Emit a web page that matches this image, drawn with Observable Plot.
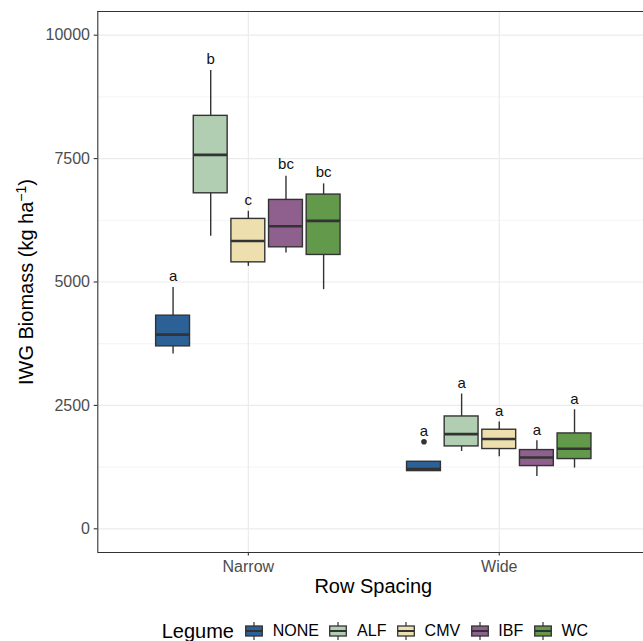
<!DOCTYPE html>
<html><head><meta charset="utf-8">
<script src="https://cdn.jsdelivr.net/npm/d3@7"></script>
<script src="https://cdn.jsdelivr.net/npm/@observablehq/plot@0.6"></script>
<style>
html,body{margin:0;padding:0;background:#fff;overflow:hidden;font-family:"Liberation Sans",Arial,sans-serif;}
#wrap{position:relative;width:643px;height:641px;overflow:hidden;}
#chart{position:absolute;left:0;top:0;}
#legend{position:absolute;left:0;top:620px;height:22px;display:flex;align-items:center;padding-left:161.7px;white-space:nowrap;}
#legend .title{font-size:20px;color:#000;margin-right:11px;}
#legend .key{display:flex;align-items:center;margin-right:10.5px;}
#legend .key svg{margin-right:9.7px;}
#legend .lab{font-size:16px;color:#000;}
</style>
</head><body>
<div id="wrap"><div id="chart"></div><div id="legend"></div></div>
<script>
// ---- data ----
const spacings = ["Narrow", "Wide"];
const legumes = ["NONE", "ALF", "CMV", "IBF", "WC"];
const legumeColors = ["#2b6196", "#b2ceb2", "#eddfae", "#8f5f8d", "#62994a"];
// [lower whisker, Q1, median, Q3, upper whisker] per legume
const narrowStats = [
  [3541, 3696, 3933, 4318, 4891],
  [5925, 6797, 7575, 8366, 9284],
  [5317, 5398, 5832, 6278, 6432],
  [5589, 5703, 6128, 6663, 7142],
  [4845, 5548, 6238, 6771, 6988]
];
const wideStats = [
  [1169, 1169, 1210, 1358, 1358],
  [1567, 1669, 1919, 2276, 2730],
  [1460, 1616, 1818, 2007, 2162],
  [1060, 1271, 1446, 1595, 1784],
  [1230, 1413, 1622, 1932, 2412]
];
const narrowLetters = ["a", "b", "c", "bc", "bc"];
const wideLetters = ["a", "a", "a", "a", "a"];
const narrowLetterY = [5108, 9507, 6649, 7379, 7217];
const wideLetterY = [1972, 2945, 2378, 2001, 2629];
const outlierSpacing = ["Wide"];
const outlierLegume = ["NONE"];
const outlierValue = [1764];
const yTicks = [0, 2500, 5000, 7500, 10000];
const yMinorTicks = [1250, 3750, 6250, 8750];
const yDomain = [-480, 10480];
const xDomain = [0.4, 2.6];

// ---- build table ----
const rows = [];
spacings.forEach((s, gi) => {
  const stats = gi === 0 ? narrowStats : wideStats;
  const letters = gi === 0 ? narrowLetters : wideLetters;
  const ly = gi === 0 ? narrowLetterY : wideLetterY;
  legumes.forEach((l, li) => {
    const [lw, q1, med, q3, uw] = stats[li];
    rows.push({spacing: s, legume: l, gi, li, lw, q1, med, q3, uw, letter: letters[li], letterY: ly[li]});
  });
});
const outliers = outlierValue.map((v, i) => ({
  gi: spacings.indexOf(outlierSpacing[i]), li: legumes.indexOf(outlierLegume[i]), value: v
}));
const DODGE = 0.15, HALF = 0.0675;
const xc = d => d.gi + 1 + (d.li - 2) * DODGE;

const plot = Plot.plot({
  width: 643,
  height: 605,
  marginLeft: 97.3,
  marginRight: -6.3,
  marginTop: 11,
  marginBottom: 53,
  style: {fontFamily: "'Liberation Sans', Arial, sans-serif", background: "white", overflow: "hidden"},
  x: {type: "linear", domain: xDomain},
  y: {domain: yDomain},
  color: {domain: legumes, range: legumeColors},
  marks: [
    Plot.ruleY(yMinorTicks, {stroke: "#ebebeb", strokeWidth: 0.6}),
    Plot.ruleY(yTicks, {stroke: "#ebebeb", strokeWidth: 1.2}),
    Plot.ruleX([1, 2], {stroke: "#ebebeb", strokeWidth: 1.2}),
    Plot.ruleX(rows, {x: xc, y1: "lw", y2: "uw", stroke: "#333", strokeWidth: 1.4}),
    Plot.rect(rows, {x1: d => xc(d) - HALF, x2: d => xc(d) + HALF, y1: "q1", y2: "q3", fill: "legume", stroke: "#333", strokeWidth: 1.4}),
    Plot.ruleY(rows, {y: "med", x1: d => xc(d) - HALF, x2: d => xc(d) + HALF, stroke: "#333", strokeWidth: 2.6}),
    Plot.dot(outliers, {x: xc, y: "value", r: 2.8, fill: "#333", stroke: null}),
    Plot.text(rows, {x: xc, y: "letterY", text: "letter", fontSize: 15, fill: "#111"}),
    // panel border (top, bottom, left)
    Plot.ruleY(yDomain, {stroke: "#333", strokeWidth: 1.1}),
    Plot.ruleX([xDomain[0]], {stroke: "#333", strokeWidth: 1.1}),
    Plot.axisY({ticks: yTicks, tickSize: 3.6, tickPadding: 4.2, fontSize: 16, fill: "#4d4d4d", stroke: "#333", strokeWidth: 1.1, label: null, tickFormat: d => String(d)}),
    Plot.axisX({ticks: [1, 2], tickSize: 3.6, tickPadding: 4.7, fontSize: 16, fill: "#4d4d4d", stroke: "#333", strokeWidth: 1.1, label: null, tickFormat: d => spacings[d - 1]})
  ]
});
document.getElementById("chart").appendChild(plot);

// axis titles
const svg = d3.select(plot);
svg.append("text")
  .attr("x", 373.3).attr("y", 593)
  .attr("text-anchor", "middle")
  .attr("font-size", 20).attr("fill", "#000")
  .text("Row Spacing");
const yt = svg.append("text")
  .attr("transform", "translate(32.7,282) rotate(-90)")
  .attr("text-anchor", "middle")
  .attr("font-size", 20).attr("fill", "#000");
yt.append("tspan").text("IWG Biomass (kg ha");
yt.append("tspan").attr("font-size", 14).attr("dy", -7).text("\u22121");
yt.append("tspan").attr("dy", 7).text(")");

// legend
const legend = d3.select("#legend");
legend.append("span").attr("class", "title").text("Legume");
legumes.forEach((l, i) => {
  const k = legend.append("span").attr("class", "key");
  const s = k.append("svg").attr("width", 18).attr("height", 18);
  s.append("line").attr("x1", 9).attr("x2", 9).attr("y1", 0).attr("y2", 18).attr("stroke", "#333").attr("stroke-width", 1.2);
  s.append("rect").attr("x", 0.7).attr("y", 4).attr("width", 16.6).attr("height", 10)
    .attr("fill", legumeColors[i]).attr("stroke", "#333").attr("stroke-width", 1.3);
  s.append("line").attr("x1", 0.7).attr("x2", 17.3).attr("y1", 9).attr("y2", 9).attr("stroke", "#333").attr("stroke-width", 2);
  k.append("span").attr("class", "lab").text(l);
});
</script>
</body></html>
